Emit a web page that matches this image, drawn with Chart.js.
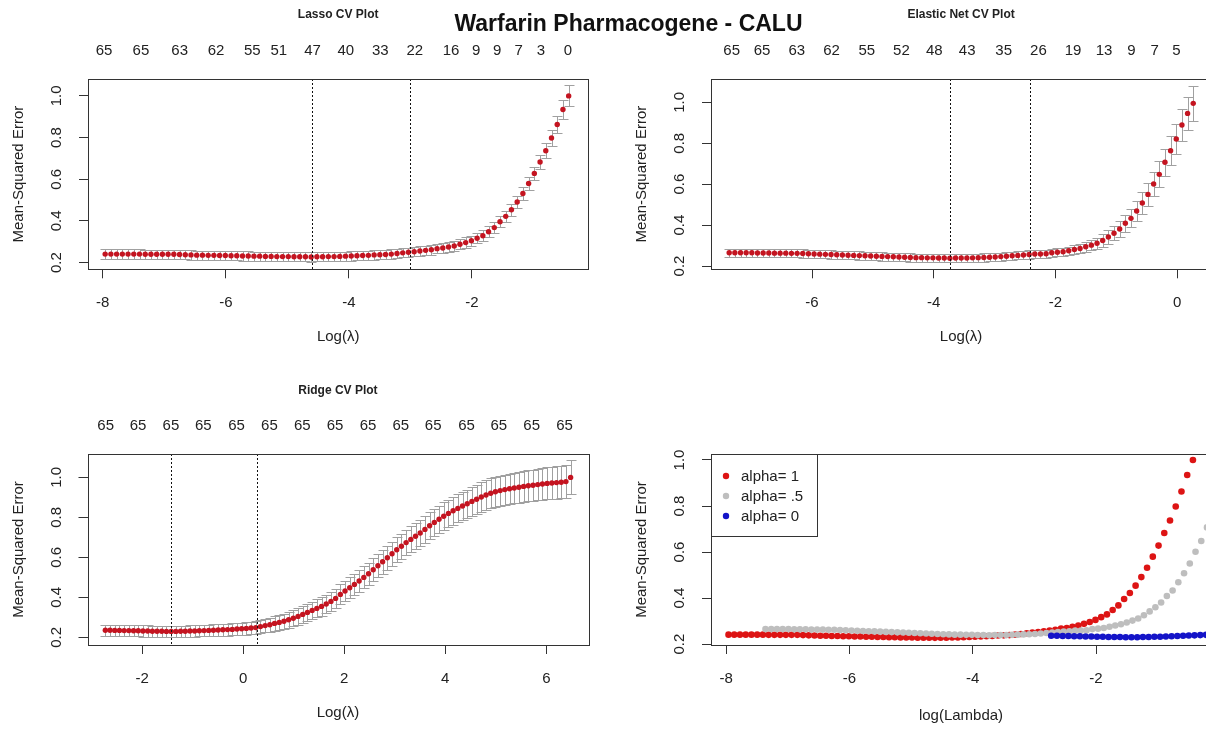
<!DOCTYPE html>
<html>
<head>
<meta charset="utf-8">
<script src="https://cdn.jsdelivr.net/npm/chart.js@4.4.1/dist/chart.umd.min.js"></script>
<style>
  body { margin: 0; background: #fff; width: 1206px; height: 729px; overflow: hidden; position: relative; }
  canvas { position: absolute; }
  #main { position: absolute; left: 0; width: 1257px; top: 10px; line-height: 28px; text-align: center;
          font: bold 23px "Liberation Sans", Arial, sans-serif; color: #111; }
</style>
</head>
<body>
<canvas id="c1" width="603" height="365" style="left:0;top:0"></canvas>
<canvas id="c2" width="650" height="365" style="left:603px;top:0"></canvas>
<canvas id="c3" width="603" height="364" style="left:0;top:365px"></canvas>
<canvas id="c4" width="650" height="364" style="left:603px;top:365px"></canvas>
<div id="main">Warfarin Pharmacogene - CALU</div>
<script>
// glmnet lambda path: log(lambda) goes down in equal steps from the largest value
const lambdaStep = 0.093;
const lassoLogMax = -0.428;
const enetLogMax = 0.265;
const ridgeLogMax = 6.48;

// cross-validated MSE (smallest lambda first)
const lassoMse = [0.241, 0.241, 0.241, 0.241, 0.241, 0.241, 0.241, 0.240, 0.240, 0.240, 0.240, 0.240, 0.240, 0.239,
  0.238, 0.237, 0.236, 0.236, 0.235, 0.235, 0.234, 0.234, 0.233, 0.233, 0.232,
  0.232, 0.231, 0.231, 0.230, 0.230, 0.229, 0.229, 0.229, 0.228, 0.228, 0.228, 0.227,
  0.228, 0.228, 0.229, 0.229, 0.230, 0.231, 0.232, 0.233, 0.234, 0.235, 0.237, 0.238, 0.239, 0.241, 0.244, 0.247,
  0.250, 0.252, 0.256, 0.259, 0.262, 0.267, 0.270, 0.275, 0.280, 0.288, 0.296, 0.305, 0.317, 0.329, 0.348, 0.368,
  0.396, 0.422, 0.454, 0.491, 0.532, 0.580, 0.628, 0.683, 0.737, 0.798, 0.863, 0.935, 1.000];
const lassoSe = [0.022, 0.022, 0.022, 0.022, 0.022, 0.022, 0.022, 0.022, 0.022, 0.022, 0.022, 0.022, 0.022, 0.022,
  0.022, 0.022, 0.022, 0.022, 0.022, 0.022, 0.022, 0.022, 0.022, 0.022, 0.022,
  0.022, 0.022, 0.022, 0.022, 0.022, 0.022, 0.022, 0.022, 0.022, 0.022, 0.022, 0.022,
  0.022, 0.022, 0.022, 0.022, 0.022, 0.022, 0.022, 0.022, 0.022, 0.022, 0.022, 0.022, 0.022, 0.022, 0.022, 0.022,
  0.022, 0.022, 0.022, 0.023, 0.023, 0.023, 0.023, 0.024, 0.024, 0.024, 0.025, 0.025, 0.025, 0.026, 0.026, 0.027,
  0.027, 0.028, 0.028, 0.029, 0.030, 0.031, 0.032, 0.034, 0.036, 0.038, 0.041, 0.044, 0.050];

const enetMse = [0.265, 0.265, 0.265, 0.265, 0.265, 0.264, 0.264, 0.264, 0.263, 0.263, 0.263, 0.262, 0.262,
  0.261, 0.260, 0.259, 0.258, 0.257, 0.256, 0.255, 0.254, 0.253, 0.252, 0.251, 0.250, 0.249,
  0.248, 0.247, 0.246, 0.245, 0.244, 0.243, 0.242, 0.241, 0.241, 0.240, 0.240, 0.239, 0.239, 0.238,
  0.239, 0.239, 0.239, 0.240, 0.241, 0.242, 0.243, 0.244, 0.246, 0.248, 0.250, 0.252, 0.254, 0.256,
  0.259, 0.259, 0.260, 0.265, 0.267, 0.270, 0.275, 0.281, 0.286, 0.294, 0.302, 0.311, 0.325, 0.342, 0.360,
  0.381, 0.409, 0.433, 0.469, 0.508, 0.550, 0.601, 0.648, 0.707, 0.763, 0.821, 0.889, 0.946, 0.995];
const enetSe = [0.020, 0.020, 0.020, 0.020, 0.020, 0.020, 0.020, 0.020, 0.020, 0.020, 0.020, 0.020, 0.020,
  0.020, 0.020, 0.020, 0.020, 0.020, 0.020, 0.020, 0.020, 0.020, 0.020, 0.020, 0.020, 0.020,
  0.020, 0.020, 0.020, 0.020, 0.020, 0.020, 0.020, 0.020, 0.020, 0.020, 0.020, 0.020, 0.020, 0.020,
  0.020, 0.020, 0.020, 0.020, 0.020, 0.020, 0.020, 0.020, 0.020, 0.020, 0.020, 0.020, 0.020, 0.020,
  0.020, 0.020, 0.020, 0.020, 0.020, 0.020, 0.020, 0.022, 0.023, 0.024, 0.026, 0.028, 0.030, 0.032, 0.035,
  0.038, 0.041, 0.044, 0.048, 0.052, 0.056, 0.059, 0.063, 0.067, 0.071, 0.075, 0.079, 0.082, 0.085];

const ridgeMse = [0.236, 0.236, 0.235, 0.235, 0.234, 0.234, 0.233, 0.233, 0.232, 0.232, 0.231, 0.231, 0.231, 0.230,
  0.230, 0.230, 0.231, 0.231, 0.232, 0.232, 0.233, 0.234, 0.235, 0.236, 0.237, 0.238, 0.239, 0.240, 0.242,
  0.243, 0.245, 0.247, 0.249,
  0.254, 0.259, 0.263, 0.270, 0.275, 0.281, 0.288, 0.296, 0.305, 0.315, 0.325, 0.335, 0.345, 0.355, 0.367,
  0.380, 0.395,
  0.415, 0.432, 0.448, 0.465, 0.482, 0.500, 0.518, 0.538, 0.558, 0.578, 0.598, 0.618, 0.638, 0.656,
  0.674, 0.690, 0.706, 0.722, 0.740, 0.758, 0.775, 0.791, 0.806, 0.820, 0.833, 0.845, 0.857, 0.868, 0.880,
  0.891, 0.902, 0.912, 0.921, 0.928, 0.934, 0.939, 0.943, 0.947, 0.951, 0.955, 0.958, 0.961, 0.964, 0.967,
  0.970, 0.972, 0.974, 0.976, 0.979, 1.000];
const ridgeSe = [0.028, 0.028, 0.028, 0.028, 0.028, 0.028, 0.028, 0.028, 0.028, 0.028, 0.028, 0.028, 0.028, 0.028,
  0.028, 0.028, 0.028, 0.028, 0.028, 0.028, 0.028,
  0.028, 0.028, 0.029, 0.029, 0.029, 0.030, 0.030, 0.030, 0.031, 0.031, 0.032, 0.032,
  0.033, 0.034, 0.035, 0.036, 0.037, 0.038, 0.039, 0.040, 0.041, 0.042, 0.043, 0.044, 0.045, 0.046, 0.047,
  0.048, 0.049, 0.050,
  0.051, 0.052, 0.053, 0.054, 0.055, 0.056, 0.057, 0.058, 0.059, 0.060, 0.061, 0.062, 0.063, 0.064, 0.065,
  0.066, 0.066, 0.067, 0.067, 0.068,
  0.068, 0.069, 0.069, 0.070, 0.070, 0.071, 0.071, 0.072, 0.072, 0.073, 0.073, 0.074, 0.074, 0.075, 0.075,
  0.076, 0.076, 0.077, 0.077, 0.078, 0.078, 0.079, 0.079, 0.080, 0.080, 0.081, 0.081, 0.082, 0.085];

// lambda.min / lambda.1se (dotted lines)
const lassoCut = [-4.60, -3.01];
const enetCut = [-3.73, -2.42];
const ridgeCut = [-1.43, 0.27];

// number of non-zero coefficients along the top
const lassoTopPos = [-7.98, -7.38, -6.75, -6.16, -5.57, -5.14, -4.59, -4.05, -3.49, -2.93, -2.34, -1.93, -1.59, -1.24, -0.88, -0.44];
const lassoTopLabels = ['65', '65', '63', '62', '55', '51', '47', '40', '33', '22', '16', '9', '9', '7', '3', '0'];
const enetTopPos = [-7.32, -6.82, -6.25, -5.68, -5.10, -4.53, -3.99, -3.45, -2.85, -2.28, -1.71, -1.20, -0.75, -0.37, -0.01];
const enetTopLabels = ['65', '65', '63', '62', '55', '52', '48', '43', '35', '26', '19', '13', '9', '7', '5'];
const ridgeTopPos = [-2.72, -2.08, -1.43, -0.79, -0.13, 0.52, 1.17, 1.82, 2.47, 3.12, 3.76, 4.42, 5.06, 5.71, 6.36];
const ridgeTopLabels = ['65', '65', '65', '65', '65', '65', '65', '65', '65', '65', '65', '65', '65', '65', '65'];

// axis ticks
const yTickVals = [0.2, 0.4, 0.6, 0.8, 1.0];
const lassoXTicks = [-8, -6, -4, -2];
const enetXTicks = [-6, -4, -2, 0];
const ridgeXTicks = [-2, 0, 2, 4, 6];
const compareXTicks = [-8, -6, -4, -2];

const legendLabels = ['alpha= 1', 'alpha= .5', 'alpha= 0'];

const FONT = '"Liberation Sans", Arial, Helvetica, sans-serif';
const INK = '#222';
const AXIS = '#333';
const RED = '#c41420';
const RED2 = '#dd1414';
const GREY = '#bebebe';
const BLUE = '#1414c8';
const BARS = '#a0a0a0';

function lambdaPath(maxLog, n) {
  return Array.from({ length: n }, (_, i) => maxLog - (n - 1 - i) * lambdaStep);
}
const lassoLog = lambdaPath(lassoLogMax, lassoMse.length);
const enetLog = lambdaPath(enetLogMax, enetMse.length);
const ridgeLog = lambdaPath(ridgeLogMax, ridgeMse.length);

function decor(p) {
  return {
    id: 'decor',
    beforeDatasetsDraw(chart) {
      if (!p.bars) return;
      const { ctx, chartArea: a } = chart;
      const x = chart.scales.x, y = chart.scales.y;
      const s = p.series[0];
      ctx.save();
      ctx.beginPath(); ctx.rect(a.left, a.top, a.width, a.height); ctx.clip();
      ctx.strokeStyle = BARS; ctx.lineWidth = 1;
      ctx.beginPath();
      s.xs.forEach((xv, i) => {
        const px = Math.round(x.getPixelForValue(xv)) + 0.5;
        const hi = Math.round(y.getPixelForValue(s.mse[i] + s.se[i])) + 0.5;
        const lo = Math.round(y.getPixelForValue(s.mse[i] - s.se[i])) + 0.5;
        ctx.moveTo(px, hi); ctx.lineTo(px, lo);
        ctx.moveTo(px - 5, hi); ctx.lineTo(px + 5, hi);
        ctx.moveTo(px - 5, lo); ctx.lineTo(px + 5, lo);
      });
      ctx.stroke();
      ctx.restore();
    },
    afterDatasetsDraw(chart) {
      const { ctx, chartArea: a } = chart;
      const x = chart.scales.x;
      ctx.save();
      if (p.cut) {
        ctx.strokeStyle = '#111'; ctx.lineWidth = 1; ctx.setLineDash([2, 2]);
        p.cut.forEach(v => {
          const px = Math.round(x.getPixelForValue(v)) + 0.5;
          ctx.beginPath(); ctx.moveTo(px, a.top); ctx.lineTo(px, a.bottom); ctx.stroke();
        });
        ctx.setLineDash([]);
      }
      ctx.strokeStyle = AXIS; ctx.lineWidth = 1;
      ctx.strokeRect(Math.round(a.left) + 0.5, Math.round(a.top) + 0.5, Math.round(a.width), Math.round(a.height));
      ctx.restore();
    },
    afterDraw(chart) {
      const { ctx, chartArea: a } = chart;
      const y = chart.scales.y;
      ctx.save();
      ctx.fillStyle = INK;
      ctx.font = '15px ' + FONT;
      ctx.textAlign = 'center'; ctx.textBaseline = 'middle';
      // y tick labels, parallel to the axis as R draws them
      yTickVals.forEach(v => {
        ctx.save();
        ctx.translate(a.left - 31, y.getPixelForValue(v));
        ctx.rotate(-Math.PI / 2);
        ctx.fillText(v.toFixed(1), 0, 0);
        ctx.restore();
      });
      ctx.save();
      ctx.translate(a.left - 69, (a.top + a.bottom) / 2);
      ctx.rotate(-Math.PI / 2);
      ctx.fillText('Mean-Squared Error', 0, 0);
      ctx.restore();
      ctx.fillText(p.xTitle, (a.left + a.right) / 2, a.bottom + p.xTitleGap);
      if (p.title) {
        ctx.font = 'bold 12px ' + FONT;
        ctx.fillText(p.title, (a.left + a.right) / 2, p.titleY);
      }
      if (p.legend) {
        const lx = a.left, ly = a.top;
        ctx.strokeStyle = AXIS; ctx.lineWidth = 1;
        ctx.strokeRect(Math.round(lx) + 0.5, Math.round(ly) + 0.5, 106, 82);
        ctx.font = '15px ' + FONT;
        ctx.textAlign = 'left';
        p.series.forEach((s, i) => {
          const yy = ly + 22 + i * 20;
          ctx.fillStyle = s.color;
          ctx.beginPath(); ctx.arc(lx + 15, yy, 3.2, 0, Math.PI * 2); ctx.fill();
          ctx.fillStyle = INK;
          ctx.fillText(legendLabels[i], lx + 30, yy + 1);
        });
      }
      ctx.restore();
    }
  };
}

function buildChart(p) {
  const tickFont = { family: FONT, size: 15 };
  const scales = {
    x: {
      type: 'linear', position: 'bottom', min: p.xMin, max: p.xMax,
      afterBuildTicks: s => { s.ticks = p.xTicks.map(v => ({ value: v })); },
      afterFit: s => { s.height = p.bottomH; s.paddingLeft = 0; s.paddingRight = 0; },
      border: { display: false },
      grid: { drawOnChartArea: false, drawTicks: true, tickLength: 9, color: AXIS, lineWidth: 1 },
      ticks: { autoSkip: false, maxRotation: 0, padding: 16, color: INK, font: tickFont, callback: v => String(v) }
    },
    y: {
      type: 'linear', position: 'left', min: p.yMin, max: p.yMax,
      afterBuildTicks: s => { s.ticks = yTickVals.map(v => ({ value: v })); },
      afterFit: s => { s.width = p.leftW; s.paddingTop = 0; s.paddingBottom = 0; },
      border: { display: false },
      grid: { drawOnChartArea: false, drawTicks: true, tickLength: 9, color: AXIS, lineWidth: 1 },
      ticks: { display: false }
    }
  };
  if (p.topPos) {
    scales.x2 = {
      type: 'linear', position: 'top', min: p.xMin, max: p.xMax,
      afterBuildTicks: s => { s.ticks = p.topPos.map(v => ({ value: v })); },
      afterFit: s => { s.height = p.topH; s.paddingLeft = 0; s.paddingRight = 0; },
      border: { display: false },
      grid: { display: false, drawTicks: false },
      ticks: { autoSkip: false, maxRotation: 0, padding: 19, color: INK, font: tickFont,
               callback: (v, i) => p.topLabels[i] }
    };
  }
  new Chart(document.getElementById(p.id), {
    type: 'scatter',
    data: {
      datasets: p.series.map(s => ({
        data: s.xs.map((v, i) => ({ x: v, y: s.mse[i] })),
        pointRadius: s.r, pointHoverRadius: s.r, pointBorderWidth: 0,
        pointBackgroundColor: s.color, borderColor: s.color, order: s.order || 0
      }))
    },
    options: {
      responsive: false, animation: false, events: [], devicePixelRatio: 1,
      layout: { padding: { left: 0, right: p.padRight, bottom: 0, top: p.topPos ? 0 : p.topH } },
      plugins: { legend: { display: false }, tooltip: { enabled: false } },
      scales
    },
    plugins: [decor(p)]
  });
}

buildChart({
  id: 'c1', title: 'Lasso CV Plot', titleY: 15, xTitle: 'Log(\u03bb)', xTitleGap: 68, bars: true,
  series: [{ xs: lassoLog, mse: lassoMse, se: lassoSe, color: RED, r: 2.7 }],
  xMin: -8.24, xMax: -0.109, yMin: 0.168, yMax: 1.081, xTicks: lassoXTicks,
  topPos: lassoTopPos, topLabels: lassoTopLabels, cut: lassoCut,
  leftW: 88, topH: 79, bottomH: 95.7, padRight: 14.7
});
buildChart({
  id: 'c2', title: 'Elastic Net CV Plot', titleY: 15, xTitle: 'Log(\u03bb)', xTitleGap: 68, bars: true,
  series: [{ xs: enetLog, mse: enetMse, se: enetSe, color: RED, r: 2.7 }],
  xMin: -7.66, xMax: 0.56, yMin: 0.184, yMax: 1.114, xTicks: enetXTicks,
  topPos: enetTopPos, topLabels: enetTopLabels, cut: enetCut,
  leftW: 108, topH: 79, bottomH: 95.7, padRight: 41.8
});
buildChart({
  id: 'c3', title: 'Ridge CV Plot', titleY: 26, xTitle: 'Log(\u03bb)', xTitleGap: 68, bars: true,
  series: [{ xs: ridgeLog, mse: ridgeMse, se: ridgeSe, color: RED, r: 2.7 }],
  xMin: -3.08, xMax: 6.83, yMin: 0.162, yMax: 1.117, xTicks: ridgeXTicks,
  topPos: ridgeTopPos, topLabels: ridgeTopLabels, cut: ridgeCut,
  leftW: 87.5, topH: 89, bottomH: 84, padRight: 14.7
});
buildChart({
  id: 'c4', xTitle: 'log(Lambda)', xTitleGap: 71, legend: true,
  series: [
    { xs: lassoLog, mse: lassoMse, color: RED2, r: 3.3, order: 3 },
    { xs: enetLog, mse: enetMse, color: GREY, r: 3.3, order: 2 },
    { xs: ridgeLog, mse: ridgeMse, color: BLUE, r: 3.3, order: 1 }
  ],
  xMin: -8.245, xMax: -0.135, yMin: 0.196, yMax: 1.026, xTicks: compareXTicks,
  leftW: 108, topH: 89, bottomH: 84, padRight: 42
});
</script>
</body>
</html>
